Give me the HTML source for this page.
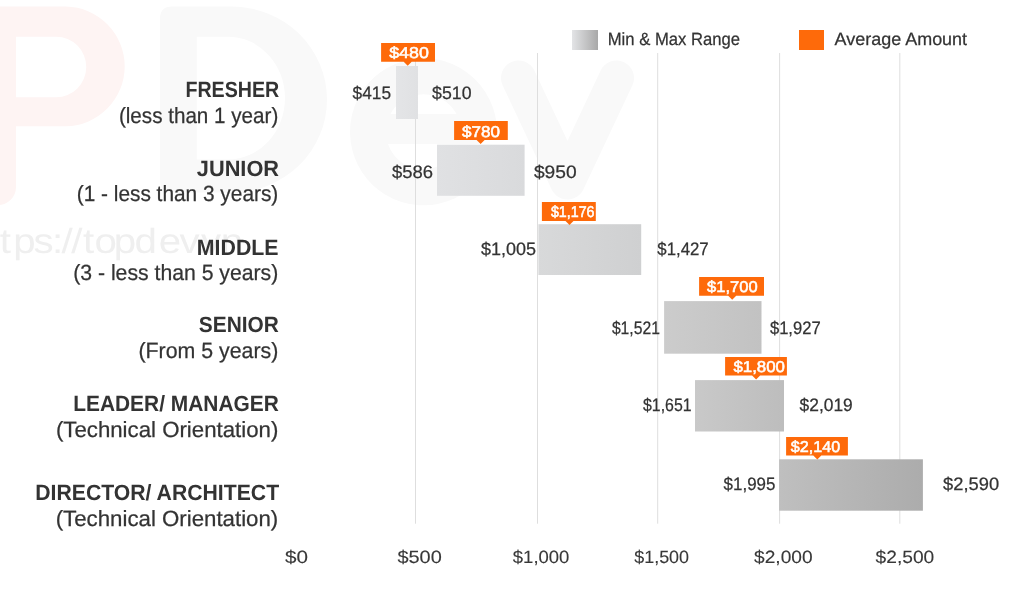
<!DOCTYPE html>
<html>
<head>
<meta charset="utf-8">
<style>
html,body{margin:0;padding:0;background:#fff;}
body{width:1021px;height:600px;overflow:hidden;position:relative;}
svg{position:absolute;left:0;top:0;display:block;will-change:transform;}
text{font-family:"Liberation Sans",sans-serif;text-rendering:geometricPrecision;}
.cat{font-weight:700;font-size:22px;fill:#333333;}
.sub{font-weight:400;font-size:22px;fill:#333;stroke:#333;stroke-width:0.25px;}
.val{font-size:18px;fill:#333;stroke:#333;stroke-width:0.25px;}
.ax{font-size:17.8px;fill:#383838;stroke:#383838;stroke-width:0.12px;}
.avg{font-weight:400;font-size:15.7px;fill:#ffffff;stroke:#ffffff;stroke-width:0.55px;}
.leg{font-size:17.7px;fill:#333;stroke:#333;stroke-width:0.25px;}
.wm{font-size:35px;fill:#efefef;}
</style>
</head>
<body>
<svg width="1021" height="600" viewBox="0 0 1021 600">
<defs>
  <linearGradient id="g0" x1="0" x2="1" y1="0" y2="0"><stop offset="0" stop-color="#e4e5e7"/><stop offset="1" stop-color="#e0e1e3"/></linearGradient>
  <linearGradient id="g1" x1="0" x2="1" y1="0" y2="0"><stop offset="0" stop-color="#e0e1e3"/><stop offset="1" stop-color="#d9dadc"/></linearGradient>
  <linearGradient id="g2" x1="0" x2="1" y1="0" y2="0"><stop offset="0" stop-color="#d8d9da"/><stop offset="1" stop-color="#cfd0d1"/></linearGradient>
  <linearGradient id="g3" x1="0" x2="1" y1="0" y2="0"><stop offset="0" stop-color="#cccccc"/><stop offset="1" stop-color="#c2c2c2"/></linearGradient>
  <linearGradient id="g4" x1="0" x2="1" y1="0" y2="0"><stop offset="0" stop-color="#c9c9c9"/><stop offset="1" stop-color="#bdbdbd"/></linearGradient>
  <linearGradient id="g5" x1="0" x2="1" y1="0" y2="0"><stop offset="0" stop-color="#bfbfbf"/><stop offset="1" stop-color="#acacac"/></linearGradient>
  <linearGradient id="gl" x1="0" x2="1" y1="0" y2="0"><stop offset="0" stop-color="#e3e4e6"/><stop offset="1" stop-color="#a8a8a8"/></linearGradient>
</defs>

<!-- watermark letters -->
<g id="wm">
  <path fill="#fef4f3" fill-rule="evenodd" d="M-20 6.6 H66 A60 60 0 0 1 124.7 66.5 A60 60 0 0 1 66 126.3 H16 V187 A18 18 0 0 1 -2 205 A18 18 0 0 1 -20 187 Z M16 36.7 V97.2 H56 A30 30 0 0 0 86.2 67 A30 30 0 0 0 56 36.7 Z"/>
  <path fill="#f9f9f9" fill-rule="evenodd" d="M172 6.6 H232 A95 93 0 0 1 327 99.5 A95 93 0 0 1 232 192.5 H172 Q160 192.5 160 180.5 V18.6 Q160 6.6 172 6.6 Z M196.8 36.7 V159.5 H228 A57 61.4 0 0 0 285 98 A57 61.4 0 0 0 228 36.7 Z"/>
  <g fill="none" stroke="#f9f9f9">
    <path stroke-width="36" d="M479 131.75 A55.5 55.5 0 1 0 466 167.5"/>
    <path stroke-width="30" d="M369 129 H479"/>
    <path stroke-width="35" stroke-linecap="round" stroke-linejoin="round" d="M518.5 78 L567.5 182 L616.5 78"/>
  </g>
</g>
<text class="wm" transform="scale(1.15,1)" x="-10.22 -0.22 11.61 29.22 45.14 53.4 62.01 72.22 82.09 99.0 117.01 138.13 156.03 169.92 174.73 191.98" y="252.9">ttps://topdev.vn</text>

<!-- gridlines -->
<g stroke="#dedede" stroke-width="1">
  <line x1="415.5" y1="53" x2="415.5" y2="523.7"/>
  <line x1="537.5" y1="53" x2="537.5" y2="523.7"/>
  <line x1="657.7" y1="53" x2="657.7" y2="523.7"/>
  <line x1="779.6" y1="53" x2="779.6" y2="523.7"/>
  <line x1="899.8" y1="53" x2="899.8" y2="523.7"/>
</g>

<!-- bars -->
<rect x="396" y="66" width="22" height="53" fill="url(#g0)"/>
<rect x="437" y="144.7" width="87.6" height="51.1" fill="url(#g1)"/>
<rect x="538.4" y="224.2" width="102.8" height="50.8" fill="url(#g2)"/>
<rect x="664.1" y="301.1" width="97.4" height="52.6" fill="url(#g3)"/>
<rect x="695" y="380.1" width="89" height="51.4" fill="url(#g4)"/>
<rect x="779.1" y="459.3" width="143.8" height="51.4" fill="url(#g5)"/>

<!-- average labels -->
<g fill="#fe6a0a">
  <path d="M381.1 43.0 H435.00 V61.80 H411.7 L407.7 65.8 L403.7 61.80 H381.1 Z"/>
  <path d="M454.1 120.9 H507.80 V139.90 H484.6 L480.6 143.9 L476.6 139.90 H454.1 Z"/>
  <path d="M541.9 202.1 H595.80 V221.00 H573.5 L569.5 225.0 L565.5 221.00 H541.9 Z"/>
  <path d="M699.1 277.1 H764.00 V295.80 H736.2 L732.2 299.8 L728.2 295.80 H699.1 Z"/>
  <path d="M725.1 357.1 H786.90 V375.60 H760.1 L756.1 379.6 L752.1 375.60 H725.1 Z"/>
  <path d="M786.1 437.1 H847.90 V455.60 H821.3 L817.3 459.6 L813.3 455.60 H786.1 Z"/>
</g>

<!-- legend swatches -->
<rect x="572" y="30" width="26" height="20" fill="url(#gl)"/>
<rect x="799" y="30" width="25" height="20" fill="#fe6a0a"/>

<text id="c0" class="cat" x="185.40" y="96.7" textLength="93.80" lengthAdjust="spacingAndGlyphs">FRESHER</text>
<text id="s0" class="sub" x="118.90" y="122.6" textLength="159.40" lengthAdjust="spacingAndGlyphs">(less than 1 year)</text>
<text id="c1" class="cat" x="196.80" y="175.8" textLength="82.30" lengthAdjust="spacingAndGlyphs">JUNIOR</text>
<text id="s1" class="sub" x="76.70" y="201.3" textLength="201.60" lengthAdjust="spacingAndGlyphs">(1 - less than 3 years)</text>
<text id="c2" class="cat" x="196.80" y="254.8" textLength="81.80" lengthAdjust="spacingAndGlyphs">MIDDLE</text>
<text id="s2" class="sub" x="73.20" y="280" textLength="205.10" lengthAdjust="spacingAndGlyphs">(3 - less than 5 years)</text>
<text id="c3" class="cat" x="198.80" y="332" textLength="80.00" lengthAdjust="spacingAndGlyphs">SENIOR</text>
<text id="s3" class="sub" x="138.40" y="357.5" textLength="139.90" lengthAdjust="spacingAndGlyphs">(From 5 years)</text>
<text id="c4" class="cat" x="73.20" y="410.8" textLength="205.60" lengthAdjust="spacingAndGlyphs">LEADER/ MANAGER</text>
<text id="s4" class="sub" x="55.90" y="436.7" textLength="222.40" lengthAdjust="spacingAndGlyphs">(Technical Orientation)</text>
<text id="c5" class="cat" x="35.30" y="499.6" textLength="243.80" lengthAdjust="spacingAndGlyphs">DIRECTOR/ ARCHITECT</text>
<text id="s5" class="sub" x="55.70" y="525.5" textLength="222.60" lengthAdjust="spacingAndGlyphs">(Technical Orientation)</text>
<text id="v0a" class="val" x="352.60" y="98.8" textLength="38.40" lengthAdjust="spacingAndGlyphs">$415</text>
<text id="v0b" class="val" x="432.10" y="98.8" textLength="39.40" lengthAdjust="spacingAndGlyphs">$510</text>
<text id="v1a" class="val" x="391.90" y="177.6" textLength="41.00" lengthAdjust="spacingAndGlyphs">$586</text>
<text id="v1b" class="val" x="533.90" y="177.8" textLength="42.70" lengthAdjust="spacingAndGlyphs">$950</text>
<text id="v2a" class="val" x="481.00" y="254.9" textLength="55.00" lengthAdjust="spacingAndGlyphs">$1,005</text>
<text id="v2b" class="val" x="657.30" y="254.9" textLength="51.40" lengthAdjust="spacingAndGlyphs">$1,427</text>
<text id="v3a" class="val" x="611.90" y="333.8" textLength="48.00" lengthAdjust="spacingAndGlyphs">$1,521</text>
<text id="v3b" class="val" x="769.90" y="333.9" textLength="50.80" lengthAdjust="spacingAndGlyphs">$1,927</text>
<text id="v4a" class="val" x="643.00" y="410.6" textLength="48.60" lengthAdjust="spacingAndGlyphs">$1,651</text>
<text id="v4b" class="val" x="799.60" y="410.9" textLength="53.20" lengthAdjust="spacingAndGlyphs">$2,019</text>
<text id="v5a" class="val" x="723.60" y="489.8" textLength="51.80" lengthAdjust="spacingAndGlyphs">$1,995</text>
<text id="v5b" class="val" x="943.10" y="489.8" textLength="56.00" lengthAdjust="spacingAndGlyphs">$2,590</text>
<text id="a0" class="avg" x="389.20" y="58" textLength="39.60" lengthAdjust="spacingAndGlyphs">$480</text>
<text id="a1" class="avg" x="462.10" y="136.7" textLength="38.00" lengthAdjust="spacingAndGlyphs">$780</text>
<text id="a2" class="avg" x="550.90" y="216.5" textLength="43.60" lengthAdjust="spacingAndGlyphs">$1,176</text>
<text id="a3" class="avg" x="707.10" y="292" textLength="50.50" lengthAdjust="spacingAndGlyphs">$1,700</text>
<text id="a4" class="avg" x="733.40" y="371.9" textLength="51.60" lengthAdjust="spacingAndGlyphs">$1,800</text>
<text id="a5" class="avg" x="790.80" y="451.9" textLength="49.40" lengthAdjust="spacingAndGlyphs">$2,140</text>
<text id="x0" class="ax" x="285.10" y="562.7" textLength="23.00" lengthAdjust="spacingAndGlyphs">$0</text>
<text id="x1" class="ax" x="397.40" y="562.6" textLength="44.40" lengthAdjust="spacingAndGlyphs">$500</text>
<text id="x2" class="ax" x="512.80" y="562.8" textLength="56.60" lengthAdjust="spacingAndGlyphs">$1,000</text>
<text id="x3" class="ax" x="634.20" y="562.8" textLength="54.90" lengthAdjust="spacingAndGlyphs">$1,500</text>
<text id="x4" class="ax" x="754.00" y="562.8" textLength="58.60" lengthAdjust="spacingAndGlyphs">$2,000</text>
<text id="x5" class="ax" x="875.60" y="562.8" textLength="58.70" lengthAdjust="spacingAndGlyphs">$2,500</text>
<text id="l0" class="leg" x="607.70" y="44.9" textLength="132.40" lengthAdjust="spacingAndGlyphs">Min &amp; Max Range</text>
<text id="l1" class="leg" x="834.60" y="44.9" textLength="132.50" lengthAdjust="spacingAndGlyphs">Average Amount</text>
</svg>
</body>
</html>
